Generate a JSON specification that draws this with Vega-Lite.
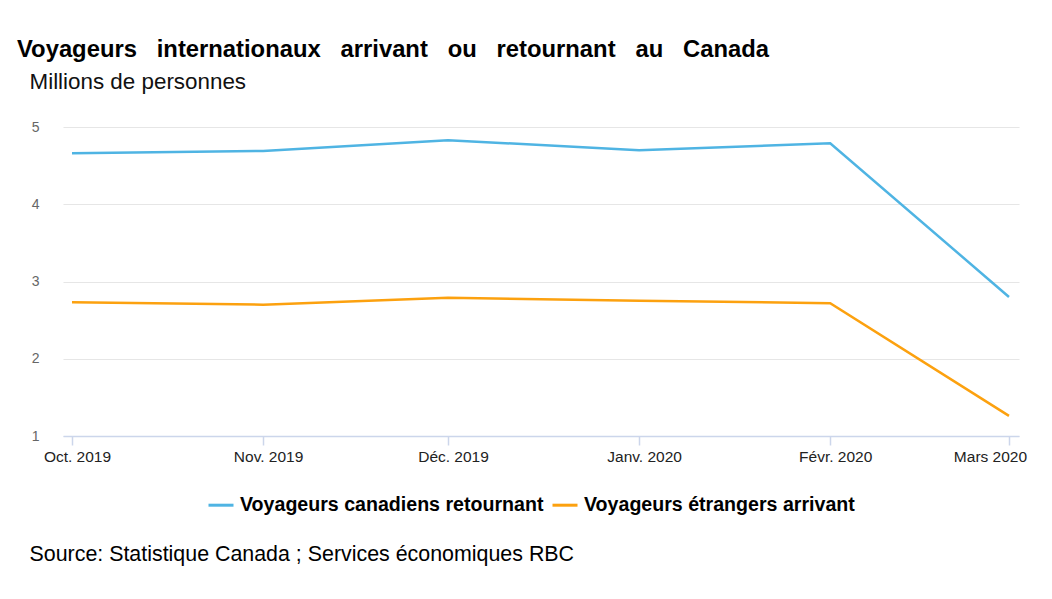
{
  "$schema": "https://vega.github.io/schema/vega-lite/v6.json",
  "autosize": "none",
  "width": 956,
  "height": 309,
  "padding": {"left": 63, "top": 127, "right": 33, "bottom": 163},
  "background": "white",
  "title": {
    "text": "Voyageurs \u00a0\u00a0internationaux \u00a0\u00a0arrivant \u00a0\u00a0ou \u00a0\u00a0retournant \u00a0\u00a0au \u00a0\u00a0Canada",
    "anchor": "start",
    "frame": "group",
    "dx": -46,
    "offset": 8,
    "font": "Liberation Sans",
    "fontSize": 23.8,
    "fontWeight": "bold",
    "color": "#000000"
  },
  "data": {
    "values": [
      {"date": "2019-10-01", "serie": "Voyageurs canadiens retournant", "valeur": 4.66},
      {"date": "2019-11-01", "serie": "Voyageurs canadiens retournant", "valeur": 4.69},
      {"date": "2019-12-01", "serie": "Voyageurs canadiens retournant", "valeur": 4.83},
      {"date": "2020-01-01", "serie": "Voyageurs canadiens retournant", "valeur": 4.70},
      {"date": "2020-02-01", "serie": "Voyageurs canadiens retournant", "valeur": 4.79},
      {"date": "2020-03-01", "serie": "Voyageurs canadiens retournant", "valeur": 2.80},
      {"date": "2019-10-01", "serie": "Voyageurs étrangers arrivant", "valeur": 2.73},
      {"date": "2019-11-01", "serie": "Voyageurs étrangers arrivant", "valeur": 2.70},
      {"date": "2019-12-01", "serie": "Voyageurs étrangers arrivant", "valeur": 2.79},
      {"date": "2020-01-01", "serie": "Voyageurs étrangers arrivant", "valeur": 2.75},
      {"date": "2020-02-01", "serie": "Voyageurs étrangers arrivant", "valeur": 2.72},
      {"date": "2020-03-01", "serie": "Voyageurs étrangers arrivant", "valeur": 1.26}
    ]
  },
  "mark": {"type": "line", "strokeWidth": 2.5, "interpolate": "linear"},
  "encoding": {
    "x": {
      "field": "date",
      "type": "temporal",
      "scale": {
        "type": "utc",
        "domain": [
          {"year": 2019, "month": 9, "date": 29, "hours": 13, "utc": true},
          {"year": 2020, "month": 3, "date": 2, "hours": 15, "utc": true}
        ]
      },
      "axis": {
        "values": [
          {"year": 2019, "month": 10, "date": 1, "utc": true},
          {"year": 2019, "month": 11, "date": 1, "utc": true},
          {"year": 2019, "month": 12, "date": 1, "utc": true},
          {"year": 2020, "month": 1, "date": 1, "utc": true},
          {"year": 2020, "month": 2, "date": 1, "utc": true},
          {"year": 2020, "month": 3, "date": 1, "utc": true}
        ],
        "labelExpr": "['Janv.','Févr.','Mars','Avr.','Mai','Juin','Juil.','Août','Sept.','Oct.','Nov.','Déc.'][utcmonth(datum.value)] + ' ' + utcyear(datum.value)",
        "labelFont": "Liberation Sans",
        "labelFontSize": 15.5,
        "labelColor": "#222222",
        "labelPadding": 4,
        "labelOffset": {"condition": {"test": "utcmonth(datum.value) == 2", "value": -19}, "value": 5},
        "labelOverlap": false,
        "labelFlush": false,
        "domainColor": "#ccd6eb",
        "domainWidth": 1.5,
        "tickColor": "#ccd6eb",
        "tickSize": 9,
        "tickWidth": 1.5,
        "grid": false,
        "title": "Source: Statistique Canada ; Services économiques RBC",
        "titleFont": "Liberation Sans",
        "titleFontSize": 21.4,
        "titleFontWeight": "normal",
        "titleColor": "#000000",
        "titleAnchor": "start",
        "titleAlign": "left",
        "titleBaseline": "alphabetic",
        "titleX": -34,
        "titleY": 124
      }
    },
    "y": {
      "field": "valeur",
      "type": "quantitative",
      "scale": {"domain": [1, 5], "nice": false, "zero": false},
      "axis": {
        "values": [1, 2, 3, 4, 5],
        "domain": false,
        "ticks": false,
        "grid": true,
        "gridColor": "#e6e6e6",
        "gridWidth": 1.2,
        "labelFont": "Liberation Sans",
        "labelFontSize": 14,
        "labelColor": "#666666",
        "labelPadding": 24,
        "title": "Millions de personnes",
        "titleAngle": 0,
        "titleFont": "Liberation Sans",
        "titleFontSize": 22.4,
        "titleFontWeight": "normal",
        "titleColor": "#111111",
        "titleAlign": "left",
        "titleBaseline": "alphabetic",
        "titleX": -34,
        "titleY": -39
      }
    },
    "color": {
      "field": "serie",
      "type": "nominal",
      "scale": {
        "domain": ["Voyageurs canadiens retournant", "Voyageurs étrangers arrivant"],
        "range": ["#4fb4e3", "#fca10f"]
      },
      "legend": {
        "title": null,
        "orient": "none",
        "direction": "horizontal",
        "legendX": 144,
        "legendY": 364,
        "symbolType": "stroke",
        "symbolSize": 625,
        "symbolStrokeWidth": 3,
        "labelFont": "Liberation Sans",
        "labelFontSize": 19.6,
        "labelFontWeight": "bold",
        "labelColor": "#000000",
        "labelOffset": 5,
        "columnPadding": 2,
        "labelLimit": 400
      }
    }
  },
  "config": {"view": {"stroke": null}}
}
